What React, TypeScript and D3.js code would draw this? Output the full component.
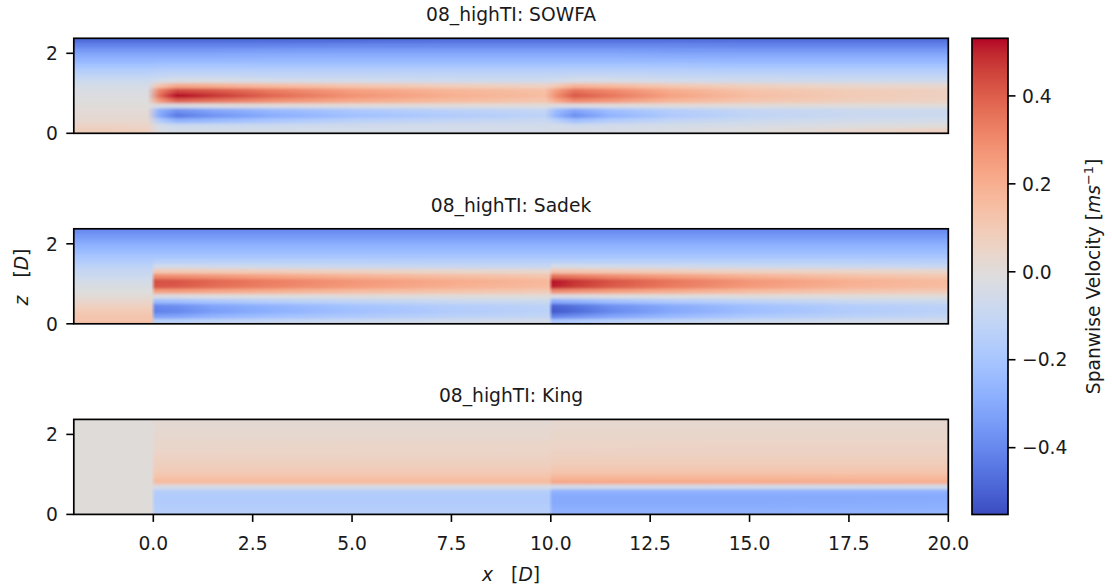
import React from 'react';
import * as d3 from 'd3';

// ---------- labels / ticks ----------
const panelTitles = ['08_highTI: SOWFA', '08_highTI: Sadek', '08_highTI: King'];
const xTicks = [0, 2.5, 5, 7.5, 10, 12.5, 15, 17.5, 20];
const zTicks = [0, 2];
const cbarTicks = [0.4, 0.2, 0.0, -0.2, -0.4];
const xDomain = [-2, 20];
const zDomain = [0, 2.375];
const cDomain = [-0.552, 0.531];

// matplotlib "coolwarm" colormap control colours (33 stops, 0 -> 1)
const coolwarm = [
  '#3b4cc0', '#445acc', '#4d68d7', '#5775e1', '#6282ea', '#6c8ef1', '#779af7', '#82a5fb',
  '#8db0fe', '#98b9ff', '#a3c2ff', '#aec9fd', '#b8d0f9', '#c2d5f4', '#ccd9ee', '#d5dbe6',
  '#dddddd', '#e5d8d1', '#ecd3c5', '#f1ccb8', '#f5c4ac', '#f7bb9f', '#f7b193', '#f7a686',
  '#f49a7b', '#f18d6f', '#ec7f63', '#e57058', '#de604d', '#d55042', '#cb3e38', '#c0282f',
  '#b40426',
];

// z rows (top -> bottom), each row spans centre +/- 0.0625 D
const zRows = [2.3125, 2.1875, 2.0625, 1.9375, 1.8125, 1.6875, 1.5625, 1.4375, 1.3125, 1.1875,
  1.0625, 0.9375, 0.8125, 0.6875, 0.5625, 0.4375, 0.3125, 0.1875, 0.0625];

// ---------- SOWFA ----------
const sowfaX = [-2, -1, -0.15, 0.15, 0.6, 1.5, 3, 5, 7.5, 9.85, 10.15, 10.6, 11.5, 13, 15, 17.5, 20];
const sowfaField = [
  [-0.47, -0.47, -0.47, -0.47, -0.47, -0.47, -0.47, -0.47, -0.46, -0.46, -0.46, -0.46, -0.46, -0.46, -0.46, -0.46, -0.46],
  [-0.41, -0.41, -0.41, -0.41, -0.41, -0.41, -0.41, -0.40, -0.40, -0.40, -0.40, -0.40, -0.40, -0.40, -0.41, -0.41, -0.41],
  [-0.35, -0.35, -0.35, -0.35, -0.35, -0.35, -0.34, -0.34, -0.34, -0.34, -0.34, -0.34, -0.34, -0.35, -0.35, -0.35, -0.35],
  [-0.30, -0.30, -0.30, -0.30, -0.30, -0.30, -0.29, -0.29, -0.29, -0.29, -0.29, -0.29, -0.29, -0.30, -0.30, -0.30, -0.30],
  [-0.26, -0.26, -0.26, -0.25, -0.25, -0.25, -0.25, -0.25, -0.25, -0.25, -0.25, -0.25, -0.25, -0.25, -0.26, -0.26, -0.26],
  [-0.21, -0.21, -0.21, -0.20, -0.20, -0.20, -0.20, -0.20, -0.20, -0.20, -0.20, -0.20, -0.20, -0.20, -0.21, -0.21, -0.21],
  [-0.16, -0.16, -0.16, -0.15, -0.15, -0.15, -0.15, -0.15, -0.15, -0.15, -0.15, -0.15, -0.15, -0.15, -0.16, -0.16, -0.16],
  [-0.12, -0.12, -0.12, -0.11, -0.10, -0.10, -0.11, -0.11, -0.11, -0.11, -0.11, -0.10, -0.10, -0.11, -0.11, -0.12, -0.12],
  [-0.08, -0.08, -0.08, -0.05, -0.03, -0.03, -0.05, -0.06, -0.07, -0.07, -0.06, -0.04, -0.04, -0.06, -0.07, -0.07, -0.07],
  [-0.05, -0.05, -0.05, 0.12, 0.22, 0.20, 0.16, 0.12, 0.08, 0.06, 0.10, 0.18, 0.16, 0.11, 0.07, 0.04, 0.03],
  [-0.03, -0.03, -0.03, 0.32, 0.45, 0.42, 0.34, 0.25, 0.18, 0.14, 0.26, 0.36, 0.31, 0.21, 0.13, 0.09, 0.07],
  [-0.02, -0.02, -0.02, 0.36, 0.53, 0.48, 0.38, 0.28, 0.20, 0.15, 0.30, 0.41, 0.35, 0.24, 0.15, 0.10, 0.07],
  [-0.01, -0.01, -0.01, 0.26, 0.40, 0.36, 0.29, 0.22, 0.16, 0.12, 0.22, 0.31, 0.27, 0.18, 0.12, 0.08, 0.06],
  [0.00, 0.00, 0.00, -0.03, -0.03, -0.01, 0.00, 0.00, 0.00, 0.00, -0.02, -0.02, -0.01, 0.00, 0.00, 0.00, 0.00],
  [0.01, 0.01, 0.01, -0.28, -0.38, -0.32, -0.25, -0.19, -0.14, -0.11, -0.24, -0.32, -0.23, -0.16, -0.11, -0.09, -0.08],
  [0.02, 0.02, 0.02, -0.30, -0.44, -0.37, -0.29, -0.22, -0.17, -0.13, -0.27, -0.38, -0.27, -0.18, -0.12, -0.09, -0.08],
  [0.03, 0.03, 0.03, -0.16, -0.27, -0.24, -0.19, -0.14, -0.11, -0.09, -0.14, -0.22, -0.16, -0.11, -0.08, -0.06, -0.05],
  [0.06, 0.06, 0.05, -0.05, -0.08, -0.08, -0.08, -0.07, -0.06, -0.06, -0.05, -0.07, -0.06, -0.05, -0.04, -0.02, 0.00],
  [0.08, 0.08, 0.07, -0.03, -0.05, -0.05, -0.05, -0.05, -0.05, -0.05, -0.04, -0.04, -0.04, -0.03, -0.01, 0.03, 0.07],
];

// ---------- Sadek ----------
const sadekX = [-2, -0.05, 0.05, 0.6, 1.5, 3, 5, 7.5, 9.95, 10.05, 10.6, 11.5, 13, 15, 17.5, 20];
const sadekField = [
  [-0.39, -0.39, -0.39, -0.39, -0.39, -0.39, -0.39, -0.39, -0.39, -0.39, -0.39, -0.39, -0.39, -0.39, -0.39, -0.39],
  [-0.35, -0.35, -0.35, -0.35, -0.35, -0.35, -0.35, -0.35, -0.35, -0.35, -0.35, -0.35, -0.35, -0.35, -0.35, -0.35],
  [-0.31, -0.31, -0.31, -0.31, -0.31, -0.31, -0.31, -0.31, -0.31, -0.31, -0.31, -0.31, -0.31, -0.31, -0.31, -0.31],
  [-0.27, -0.27, -0.27, -0.27, -0.27, -0.27, -0.27, -0.27, -0.27, -0.27, -0.27, -0.27, -0.27, -0.27, -0.27, -0.27],
  [-0.24, -0.24, -0.24, -0.24, -0.24, -0.24, -0.24, -0.24, -0.24, -0.24, -0.24, -0.24, -0.24, -0.24, -0.24, -0.24],
  [-0.20, -0.20, -0.20, -0.20, -0.20, -0.20, -0.20, -0.20, -0.20, -0.20, -0.20, -0.20, -0.20, -0.20, -0.20, -0.20],
  [-0.17, -0.17, -0.15, -0.15, -0.15, -0.15, -0.15, -0.15, -0.15, -0.15, -0.15, -0.15, -0.15, -0.15, -0.15, -0.15],
  [-0.13, -0.13, -0.06, -0.06, -0.07, -0.08, -0.09, -0.10, -0.10, -0.05, -0.05, -0.06, -0.07, -0.08, -0.09, -0.10],
  [-0.10, -0.10, 0.10, 0.10, 0.09, 0.08, 0.06, 0.04, 0.03, 0.12, 0.11, 0.10, 0.08, 0.06, 0.05, 0.04],
  [-0.08, -0.08, 0.30, 0.29, 0.27, 0.23, 0.19, 0.15, 0.12, 0.36, 0.34, 0.30, 0.25, 0.19, 0.14, 0.11],
  [-0.05, -0.05, 0.43, 0.42, 0.38, 0.33, 0.27, 0.21, 0.17, 0.52, 0.48, 0.42, 0.35, 0.27, 0.20, 0.16],
  [-0.03, -0.03, 0.42, 0.41, 0.37, 0.32, 0.26, 0.20, 0.16, 0.51, 0.47, 0.41, 0.34, 0.26, 0.19, 0.15],
  [-0.01, -0.01, 0.25, 0.25, 0.23, 0.20, 0.16, 0.13, 0.10, 0.30, 0.28, 0.25, 0.21, 0.16, 0.12, 0.10],
  [0.01, 0.01, -0.02, -0.02, -0.01, -0.01, 0.00, 0.00, 0.00, -0.02, -0.02, -0.01, -0.01, 0.00, 0.00, 0.00],
  [0.04, 0.04, -0.23, -0.22, -0.19, -0.15, -0.12, -0.09, -0.08, -0.29, -0.27, -0.22, -0.17, -0.13, -0.09, -0.08],
  [0.07, 0.07, -0.40, -0.38, -0.32, -0.27, -0.21, -0.16, -0.13, -0.50, -0.46, -0.38, -0.30, -0.22, -0.16, -0.13],
  [0.10, 0.10, -0.42, -0.40, -0.34, -0.28, -0.22, -0.17, -0.14, -0.52, -0.48, -0.40, -0.31, -0.23, -0.17, -0.14],
  [0.12, 0.12, -0.33, -0.32, -0.27, -0.22, -0.18, -0.14, -0.11, -0.42, -0.38, -0.32, -0.25, -0.18, -0.14, -0.11],
  [0.13, 0.13, -0.14, -0.14, -0.12, -0.10, -0.08, -0.06, -0.05, -0.18, -0.17, -0.14, -0.11, -0.08, -0.06, -0.05],
];

// ---------- King ----------
const kingX = [-2, -0.05, 0.05, 5, 9.95, 10.05, 15, 20];
const kingField = [
  [0, 0, 0.02, 0.02, 0.02, 0.03, 0.03, 0.03],
  [0, 0, 0.02, 0.02, 0.02, 0.03, 0.03, 0.03],
  [0, 0, 0.03, 0.03, 0.03, 0.04, 0.04, 0.04],
  [0, 0, 0.03, 0.03, 0.03, 0.04, 0.04, 0.04],
  [0, 0, 0.04, 0.04, 0.04, 0.05, 0.05, 0.05],
  [0, 0, 0.04, 0.05, 0.05, 0.05, 0.06, 0.06],
  [0, 0, 0.05, 0.05, 0.05, 0.06, 0.06, 0.06],
  [0, 0, 0.06, 0.06, 0.06, 0.07, 0.07, 0.07],
  [0, 0, 0.07, 0.07, 0.07, 0.08, 0.08, 0.08],
  [0, 0, 0.08, 0.08, 0.08, 0.10, 0.10, 0.10],
  [0, 0, 0.10, 0.10, 0.10, 0.12, 0.12, 0.12],
  [0, 0, 0.13, 0.13, 0.13, 0.17, 0.17, 0.16],
  [0, 0, 0.16, 0.16, 0.16, 0.22, 0.21, 0.20],
  [0, 0, -0.04, -0.04, -0.04, -0.06, -0.06, -0.06],
  [0, 0, -0.16, -0.16, -0.16, -0.28, -0.28, -0.28],
  [0, 0, -0.17, -0.17, -0.17, -0.30, -0.30, -0.30],
  [0, 0, -0.17, -0.17, -0.17, -0.30, -0.30, -0.29],
  [0, 0, -0.16, -0.16, -0.16, -0.29, -0.29, -0.28],
  [0, 0, -0.15, -0.15, -0.15, -0.27, -0.27, -0.26],
];

const panels = [
  { title: panelTitles[0], xs: sowfaX, field: sowfaField },
  { title: panelTitles[1], xs: sadekX, field: sadekField },
  { title: panelTitles[2], xs: kingX, field: kingField },
];

// ---------- layout ----------
const W = 1112;
const H = 587;
const plotLeft = 73.8;
const plotRight = 948.3;
const panelTops = [38.3, 228.8, 419.4];
const panelH = 95;
const cbar = { x: 972, w: 36, top: 38.3, bottom: 514.5 };
const FONT = 'DejaVu Sans, Verdana, sans-serif';
const FS = 18.7;

const xScale = d3.scaleLinear().domain(xDomain).range([plotLeft, plotRight]);
const cmapPos = d3.scaleLinear().domain(cDomain).range([0, 1]).clamp(true);
const cmap = d3
  .scaleLinear<string>()
  .domain(coolwarm.map((_, i) => i / (coolwarm.length - 1)))
  .range(coolwarm)
  .interpolate(d3.interpolateRgb);
const colorOf = (v: number) => cmap(cmapPos(v));
const cScale = d3.scaleLinear().domain(cDomain).range([cbar.bottom, cbar.top]);
const fmtX = d3.format('.1f');
const fmtC = (v: number) => d3.format('.1f')(v).replace('-', '\u2212');

function Panel({ idx }: { idx: number }) {
  const p = panels[idx];
  const top = panelTops[idx];
  const bottom = top + panelH;
  const zScale = d3.scaleLinear().domain(zDomain).range([bottom, top]);
  const x0 = xScale(p.xs[0]);
  const x1 = xScale(p.xs[p.xs.length - 1]);
  const half = (zRows[0] - zRows[1]) / 2;
  return (
    <g>
      <defs>
        <clipPath id={`clip${idx}`}>
          <rect x={plotLeft} y={top} width={plotRight - plotLeft} height={panelH} />
        </clipPath>
        {p.field.map((row, k) => (
          <linearGradient key={k} id={`g${idx}_${k}`} gradientUnits="userSpaceOnUse" x1={x0} x2={x1} y1={0} y2={0}>
            {row.map((v, j) => (
              <stop key={j} offset={(xScale(p.xs[j]) - x0) / (x1 - x0)} stopColor={colorOf(v)} />
            ))}
          </linearGradient>
        ))}
      </defs>
      <g clipPath={`url(#clip${idx})`}>
        <g filter="url(#soft)">
          {zRows.map((zc, k) => {
            let yTop = zScale(zc + half);
            let yBot = zScale(zc - half);
            if (k === 0) yTop -= 8;
            if (k === zRows.length - 1) yBot += 8;
            return (
              <rect
                key={k}
                x={plotLeft - 6}
                y={yTop}
                width={plotRight - plotLeft + 12}
                height={yBot - yTop + 0.6}
                fill={`url(#g${idx}_${k})`}
              />
            );
          })}
        </g>
      </g>
      <rect x={plotLeft} y={top} width={plotRight - plotLeft} height={panelH} fill="none" stroke="#000" strokeWidth={1.7} />
      {zTicks.map((t) => (
        <g key={t}>
          <line x1={plotLeft - 7.5} x2={plotLeft} y1={zScale(t)} y2={zScale(t)} stroke="#000" strokeWidth={1.6} />
          <text x={plotLeft - 16} y={zScale(t)} dy="0.36em" textAnchor="end" fontSize={FS} fontFamily={FONT} fill="#1a1a1a">
            {t}
          </text>
        </g>
      ))}
      <text x={(plotLeft + plotRight) / 2} y={top - 17.3} textAnchor="middle" fontSize={FS} fontFamily={FONT} fill="#1a1a1a">
        {p.title}
      </text>
      {idx === 2 &&
        xTicks.map((t) => (
          <g key={t}>
            <line x1={xScale(t)} x2={xScale(t)} y1={bottom} y2={bottom + 7.5} stroke="#000" strokeWidth={1.6} />
            <text x={xScale(t)} y={bottom + 35.5} textAnchor="middle" fontSize={FS} fontFamily={FONT} fill="#1a1a1a">
              {fmtX(t)}
            </text>
          </g>
        ))}
    </g>
  );
}

export default function App() {
  return (
    <svg
      width={W}
      height={H}
      viewBox={`0 0 ${W} ${H}`}
      style={{ position: 'absolute', left: 0, top: 0, background: '#fff' }}
    >
      <defs>
        <filter id="soft" x="-2%" y="-20%" width="104%" height="140%">
          <feGaussianBlur stdDeviation="0.6 1.6" />
        </filter>
        <linearGradient id="cbarGrad" x1="0" y1="1" x2="0" y2="0">
          {coolwarm.map((c, i) => (
            <stop key={i} offset={i / (coolwarm.length - 1)} stopColor={c} />
          ))}
        </linearGradient>
      </defs>
      <rect x={0} y={0} width={W} height={H} fill="#fff" />
      {panels.map((_, i) => (
        <Panel key={i} idx={i} />
      ))}

      {/* x label */}
      <text x={(plotLeft + plotRight) / 2} y={581} textAnchor="middle" fontSize={FS} fontFamily={FONT} fill="#1a1a1a">
        <tspan fontStyle="italic">x</tspan>
        <tspan dx={18}>[</tspan>
        <tspan fontStyle="italic">D</tspan>
        <tspan>]</tspan>
      </text>
      {/* y label */}
      <text transform="translate(27.5,277) rotate(-90)" textAnchor="middle" fontSize={FS} fontFamily={FONT} fill="#1a1a1a">
        <tspan fontStyle="italic">z</tspan>
        <tspan dx={18}>[</tspan>
        <tspan fontStyle="italic">D</tspan>
        <tspan>]</tspan>
      </text>

      {/* colorbar */}
      <rect x={cbar.x} y={cbar.top} width={cbar.w} height={cbar.bottom - cbar.top} fill="url(#cbarGrad)" />
      <rect x={cbar.x} y={cbar.top} width={cbar.w} height={cbar.bottom - cbar.top} fill="none" stroke="#000" strokeWidth={1.7} />
      {cbarTicks.map((t) => (
        <g key={t}>
          <line x1={cbar.x + cbar.w} x2={cbar.x + cbar.w + 7.5} y1={cScale(t)} y2={cScale(t)} stroke="#000" strokeWidth={1.6} />
          <text x={cbar.x + cbar.w + 14} y={cScale(t)} dy="0.36em" fontSize={FS} fontFamily={FONT} fill="#1a1a1a">
            {fmtC(t)}
          </text>
        </g>
      ))}
      <text
        transform={`translate(1100,${(cbar.top + cbar.bottom) / 2}) rotate(-90)`}
        textAnchor="middle"
        fontSize={FS}
        fontFamily={FONT}
        fill="#1a1a1a"
      >
        <tspan>Spanwise Velocity [</tspan>
        <tspan fontStyle="italic">ms</tspan>
        <tspan fontSize={13} dy={-7}>−1</tspan>
        <tspan dy={7}>]</tspan>
      </text>
    </svg>
  );
}
